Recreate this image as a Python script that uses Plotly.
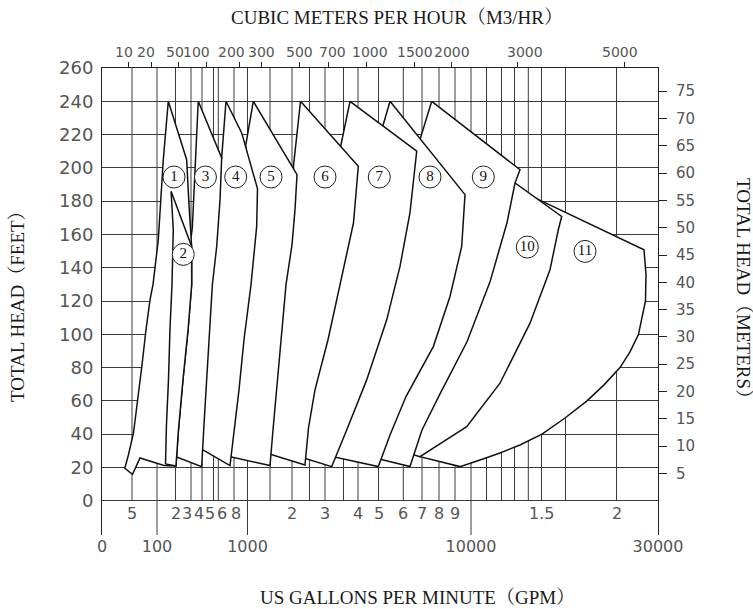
import numpy as np
import plotly.graph_objects as go

# ---------------- scale of the (hand-drawn, non-uniform) flow axis ----------------
# flow value (US GPM) -> position along the horizontal axis (axis units)
AXIS_GPM_STOPS = [0, 50, 100, 200, 300, 400, 500, 600, 800, 1000, 1500, 2000, 2500, 3000, 3500,
                  4000, 5000, 6000, 7000, 8000, 9000, 10000, 11000, 12000, 13000, 14000, 15000,
                  17000, 20000, 30000]
AXIS_STOP_POS = [0, 30, 55, 73.5, 89, 100, 111.5, 116.3, 132, 145.5, 168, 190, 207.5, 223, 241.5,
                 256, 276.5, 301.3, 320, 337, 353, 369, 384.5, 399.5, 412.5, 426.3, 439.5,
                 463.5, 514.5, 556]

GPM_PER_M3H = 4.402868
FT_PER_M = 3.28084
FT_RANGE = [-20.6, 260]

# ---------------- axis tick data ----------------
GPM_MAJOR = [0, 100, 1000, 10000, 30000]
GPM_MAJOR_TEXT = ["0", "100", "1000", "10000", "30000"]
GPM_MINOR = [50, 200, 300, 400, 500, 600, 800, 2000, 3000, 4000, 5000, 6000, 7000, 8000, 9000, 15000, 20000]
GPM_MINOR_TEXT = ["5", "2", "3", "4", "5", "6", "8", "2", "3", "4", "5", "6", "7", "8", "9", "1.5", "2"]
GRID_GPM = [50, 100, 200, 300, 400, 500, 600, 800, 1000, 1500, 2000, 2500, 3000, 3500, 4000, 5000,
            6000, 7000, 8000, 9000, 10000, 11000, 12000, 13000, 14000, 15000, 17000, 20000]
LONG_TICK_GPM = [100, 1000, 10000]
M3H_TICKS = [10, 20, 50, 100, 200, 300, 500, 700, 1000, 1500, 2000, 3000, 5000]
M3H_TEXT = ["10", "20", "50", "100", "200", "300", "500", "700", "1000", "1500", "2000", "3000", "5000"]
FT_TICKS = list(range(0, 261, 20))
M_TICKS = list(range(5, 76, 5))

# ---------------- pump coverage envelopes (GPM, feet) ----------------
P1_GPM = [161, 272, 287, 306, 306, 281, 248, 219, 203, 138, 66, 51, 38, 44, 53, 62, 70, 78, 86, 92, 107, 134, 161]
P1_FT = [240, 204.9, 177.9, 152.8, 129.8, 102.7, 72.6, 42.5, 20.9, 21.2, 25.7, 15.8, 19.5, 27.5, 40.7, 60.6, 81.6, 102.7, 120.7, 129.8, 156.8, 204.9, 240]

P2_GPM = [176, 306, 306, 281, 248, 219, 203, 146, 151, 162, 170, 181, 188, 176]
P2_FT = [185.9, 152.8, 129.8, 102.7, 72.6, 42.5, 20.9, 22.1, 45.5, 72.6, 102.7, 129.8, 162.8, 185.9]

P3_GPM = [366, 643, 622, 567, 490, 465, 439, 417, 397, 192, 200, 232, 265, 287, 290, 312, 327, 345, 366]
P3_FT = [240, 206.0, 180.9, 152.8, 129.8, 102.7, 72.6, 45.5, 20.5, 26.9, 42.5, 72.6, 102.7, 129.8, 150.8, 164.0, 186.9, 211.0, 240]

P4_GPM = [698, 914, 1222, 1204, 1078, 948, 874, 807, 749, 373, 395, 417, 443, 468, 510, 583, 615, 643, 673, 698]
P4_FT = [240, 221.0, 187.5, 164.8, 129.8, 96.7, 66.6, 42.5, 21.1, 31.9, 45.5, 72.6, 102.7, 129.8, 152.8, 180.9, 201.9, 206.0, 223.0, 240]

P5_GPM = [1129, 2143, 2086, 2000, 1864, 1750, 1636, 1568, 1500, 724, 775, 837, 911, 1022, 1144, 1133, 1033, 973, 1033, 1129]
P5_FT = [240, 195.9, 174.9, 153.8, 129.8, 96.7, 66.6, 42.5, 21.1, 26.7, 42.5, 66.6, 96.7, 129.8, 164.8, 187.5, 198.9, 213.4, 224.8, 240]

P6_GPM = [2243, 4015, 3845, 3405, 3081, 2677, 2471, 2371, 1433, 1478, 1557, 1670, 1784, 1909, 1977, 2029, 2043, 2243]
P6_FT = [240, 200.9, 167.0, 130.3, 96.7, 66.6, 43.7, 21.5, 28.6, 42.5, 66.6, 96.7, 129.8, 153.8, 174.9, 189.9, 201.3, 240]

P7_GPM = [3724, 6717, 6358, 5867, 5331, 4424, 3610, 3181, 2286, 2371, 2565, 2968, 3297, 3690, 3655, 3422, 3724]
P7_FT = [240, 210.0, 173.1, 140.8, 108.7, 72.6, 42.5, 20.5, 26.0, 43.7, 66.6, 96.7, 130.3, 167.0, 195.9, 212.8, 240]

P8_GPM = [5464, 9625, 9419, 8688, 7665, 6144, 5464, 4990, 3216, 3405, 4049, 5020, 5544, 5867, 5665, 5181, 5464]
P8_FT = [240, 183.9, 152.8, 122.7, 92.6, 62.6, 39.5, 20.5, 26.5, 42.5, 72.6, 108.7, 140.8, 173.1, 204.9, 225.4, 240]

P9_GPM = [7571, 13399, 13036, 12423, 11233, 9750, 8063, 7000, 6358, 4878, 5222, 5867, 7294, 8313, 9000, 8063, 6893, 7571]
P9_FT = [240, 198.9, 190.9, 167.0, 131.5, 95.5, 64.2, 42.5, 20.5, 25.6, 39.5, 62.6, 92.6, 122.7, 152.8, 192.9, 217.0, 240]

P10_GPM = [11900, 16683, 16400, 15708, 14129, 11900, 9731, 8063, 6893, 6037, 6519, 7529, 9188, 10645, 11700, 11900]
P10_FT = [197.4, 170.8, 162.8, 138.8, 106.7, 70.6, 44.5, 34.5, 26.5, 29.3, 42.5, 64.2, 95.5, 131.5, 167.0, 197.4]

P11_GPM = [13688, 26626, 27108, 26988, 26024, 25301, 23253, 20843, 19265, 18265, 16958, 15042, 13399, 11900,
           10581, 9313, 6893, 7471, 9000, 11233, 13254, 13978, 13688]
P11_FT = [185.1, 150.8, 135.8, 120.1, 108.7, 100.0, 89.4, 80.0, 69.6, 60.0, 49.7, 40.0, 33.5, 28.7,
          24.5, 20.5, 26.5, 32.9, 44.3, 70.2, 106.3, 138.8, 185.1]

# circled model numbers
LABEL_TEXT = ["1", "2", "3", "4", "5", "6", "7", "8", "9", "10", "11"]
LABEL_GPM = [192, 250, 430, 825, 1523, 3000, 5032, 7471, 10794, 13928, 18147]
LABEL_FT = [194.5, 148, 194.5, 194.5, 194.5, 194.5, 194.5, 194.5, 194.5, 152.4, 149.8]


def flow_pos(g):
    return np.interp(np.asarray(g, dtype=float), AXIS_GPM_STOPS, AXIS_STOP_POS)


X_RANGE = [AXIS_STOP_POS[0], AXIS_STOP_POS[-1]]
GRID_COLOR = "#3a3a3a"
LINE_COLOR = "#111111"
TICK_COLOR = "#555555"
NUM_FONT = "DejaVu Sans"
SERIF = "Liberation Serif, Noto Serif CJK SC, Noto Sans CJK SC, serif"

fig = go.Figure()

# vertical grid lines (short ones stop at 0 ft, long ones run to the bottom labels)
gx, gy = [], []
for g in GRID_GPM:
    p = float(flow_pos(g))
    gx += [p, p, None]
    gy += [FT_RANGE[0] if g in LONG_TICK_GPM else 0, FT_RANGE[1], None]
fig.add_trace(go.Scatter(x=gx, y=gy, mode="lines", line=dict(color=GRID_COLOR, width=1),
                         hoverinfo="skip", showlegend=False))

# pump envelopes: drawn right to left so that the left-hand ones lie on top
pumps = [(P11_GPM, P11_FT), (P10_GPM, P10_FT), (P9_GPM, P9_FT), (P8_GPM, P8_FT),
         (P7_GPM, P7_FT), (P6_GPM, P6_FT), (P5_GPM, P5_FT), (P4_GPM, P4_FT),
         (P3_GPM, P3_FT), (P1_GPM, P1_FT), (P2_GPM, P2_FT)]
for gpm, ft in pumps:
    fig.add_trace(go.Scatter(x=flow_pos(gpm), y=ft, mode="lines", fill="toself", fillcolor="white",
                             line=dict(color=LINE_COLOR, width=1.5), hoverinfo="skip", showlegend=False))

# circled numbers
fig.add_trace(go.Scatter(x=flow_pos(LABEL_GPM), y=LABEL_FT, mode="markers+text", text=LABEL_TEXT,
                         textposition="middle center",
                         textfont=dict(family=SERIF, size=15, color="#111"),
                         marker=dict(symbol="circle", size=22, color="white",
                                     line=dict(color="#222", width=1)),
                         hoverinfo="skip", showlegend=False))

# helper traces so the secondary axes are created
fig.add_trace(go.Scatter(x=[None], y=[None], xaxis="x2", yaxis="y", showlegend=False, hoverinfo="skip"))
fig.add_trace(go.Scatter(x=[None], y=[None], xaxis="x", yaxis="y2", showlegend=False, hoverinfo="skip"))

annotations = []
# second row of flow labels (multipliers), nudged apart where the grid is crowded
minor_shift = {300: -4, 400: -3.5, 500: -3.5, 600: 4, 800: 2}
for g, t in zip(GPM_MINOR, GPM_MINOR_TEXT):
    annotations.append(dict(x=float(flow_pos(g)), y=0, xref="x", yref="y", text=t, showarrow=False,
                            yanchor="top", xanchor="center", yshift=-1, xshift=minor_shift.get(g, 0),
                            font=dict(family=NUM_FONT, size=16, color=TICK_COLOR)))

# top (m3/h) labels, nudged where crowded
top_shift = {10: -4, 20: -5, 50: -4, 100: -10, 200: -8, 700: 4, 1000: 4, 3000: 8, 5000: -5}
for v, t in zip(M3H_TICKS, M3H_TEXT):
    annotations.append(dict(x=float(flow_pos(v * GPM_PER_M3H)), y=1, xref="x", yref="paper", text=t,
                            showarrow=False, yanchor="bottom", xanchor="center", yshift=6,
                            xshift=top_shift.get(v, 0),
                            font=dict(family=NUM_FONT, size=14, color=TICK_COLOR)))

title_font = dict(family=SERIF, size=19, color="#1a1a1a")
annotations += [
    dict(text="CUBIC METERS PER HOUR（M3/HR）", x=0.53, y=1.109, xref="paper", yref="paper",
         showarrow=False, xanchor="center", yanchor="middle", font=title_font),
    dict(text="US GALLONS PER MINUTE（GPM）", x=0.568, y=-0.133, xref="paper", yref="paper",
         showarrow=False, xanchor="center", yanchor="middle", font=title_font),
    dict(text="TOTAL HEAD（FEET）", x=-0.152, y=0.5, xref="paper", yref="paper", textangle=-90,
         showarrow=False, xanchor="center", yanchor="middle", font=title_font),
    dict(text="TOTAL HEAD（METERS）", x=1.155, y=0.518, xref="paper", yref="paper", textangle=90,
         showarrow=False, xanchor="center", yanchor="middle", font=title_font),
]

fig.update_layout(
    width=753, height=609,
    margin=dict(l=102, r=95, t=68, b=74, autoexpand=False),
    paper_bgcolor="white", plot_bgcolor="white",
    showlegend=False,
    annotations=annotations,
    xaxis=dict(range=X_RANGE, tickmode="array", tickvals=[float(v) for v in flow_pos(GPM_MAJOR)],
               ticktext=GPM_MAJOR_TEXT, showgrid=False, zeroline=False, showline=False, ticks="",
               tickangle=0, automargin=False,
               tickfont=dict(family=NUM_FONT, size=16, color=TICK_COLOR), fixedrange=True),
    xaxis2=dict(overlaying="x", side="top", anchor="y", range=X_RANGE, tickmode="array",
                tickvals=[float(v) for v in flow_pos(np.array(M3H_TICKS) * GPM_PER_M3H)],
                showticklabels=False, automargin=False,
                showline=True, linecolor="#222", linewidth=1, ticks="outside", ticklen=5,
                tickcolor="#222", showgrid=False, zeroline=False, fixedrange=True),
    yaxis=dict(range=FT_RANGE, tickmode="array", tickvals=FT_TICKS, showline=True, linecolor="#222",
               linewidth=1, showgrid=True, gridcolor=GRID_COLOR, gridwidth=1, zeroline=False, ticks="",
               ticklabelstandoff=4, automargin=False,
               tickfont=dict(family=NUM_FONT, size=18, color=TICK_COLOR), fixedrange=True),
    yaxis2=dict(overlaying="y", side="right", anchor="x",
                range=[FT_RANGE[0] / FT_PER_M, FT_RANGE[1] / FT_PER_M], tickmode="array",
                tickvals=M_TICKS, showline=True, linecolor="#222", linewidth=1, ticks="outside",
                ticklen=8, tickcolor="#222", showgrid=False, zeroline=False, ticklabelstandoff=6,
                automargin=False,
                tickfont=dict(family=NUM_FONT, size=15, color=TICK_COLOR), fixedrange=True),
)

fig.write_html("out.html", config={"displayModeBar": False, "staticPlot": True},
               post_script="document.body.style.margin='0px';")
